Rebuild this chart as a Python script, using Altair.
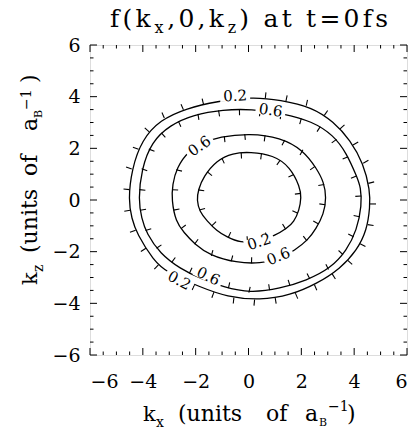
import altair as alt
import numpy as np
import pandas as pd

# ---------------- data ----------------
# contour curves (kx, kz), one list per contour level
c1_x = [-4.55, -4.42, -4.23, -3.6, -3.1, -1.83, -0.82, 0.44, 1.58, 2.59, 3.47, 4.1, 4.48, 4.6,
        4.6, 4.35, 3.85, 3.22, 2.4, 1.2, 0.15, -1.2, -2.34, -3.35, -4.04, -4.42]
c1_z = [0.0, -0.72, -1.3, -2.33, -2.8, -3.37, -3.75, -3.88, -3.69, -3.24, -2.66, -1.95, -1.17, -0.27,
        0.38, 1.41, 2.32, 3.03, 3.6, 3.87, 3.99, 3.82, 3.55, 3.1, 2.32, 1.2]

c2_x = [-4.17, -4.05, -3.86, -3.35, -2.59, -1.8, -0.95, 0.06, 1.2, 2.2, 3.09, 3.72, 4.1, 4.29,
        4.25, 4.1, 3.72, 3.22, 2.4, 1.32, 0.1, -0.95, -2.09, -2.97, -3.67, -4.05]
c2_z = [0.0, -0.7, -1.3, -2.07, -2.66, -3.05, -3.37, -3.6, -3.43, -3.11, -2.66, -1.95, -1.17, -0.2,
        0.5, 0.9, 1.8, 2.51, 3.05, 3.35, 3.52, 3.5, 3.3, 2.9, 2.25, 1.2]

c3_x = [-2.91, -2.75, -2.45, -2.05, -1.45, -0.45, 0.44, 1.2, 1.75, 2.25, 2.55, 2.85, 2.95,
        2.85, 2.59, 2.08, 1.2, 0.06, -1.1, -1.75, -2.28, -2.72, -2.88]
c3_z = [0.0, -0.85, -1.25, -1.7, -2.15, -2.43, -2.46, -2.28, -1.95, -1.55, -1.12, -0.55, 0.1,
        0.7, 1.2, 1.93, 2.42, 2.58, 2.45, 2.2, 1.9, 1.25, 0.6]

c4_x = [-1.96, -1.85, -1.58, -1.2, -0.82, -0.32, 0.38, 1.0, 1.45, 1.72, 1.92, 2.0,
        1.95, 1.58, 0.94, 0.06, -0.6, -1.2, -1.71, -1.9]
c4_z = [0.0, -0.45, -0.8, -1.2, -1.43, -1.66, -1.6, -1.38, -1.1, -0.85, -0.4, 0.1,
        0.5, 1.28, 1.74, 1.86, 1.82, 1.54, 0.9, 0.4]

contours_x = [c1_x, c2_x, c3_x, c4_x]
contours_z = [c1_z, c2_z, c3_z, c4_z]
tick_side = [1, -1, -1, -1]          # +1 ticks outward, -1 ticks inward

# contour labels
lab_text = ["0.2", "0.6", "0.6", "0.2", "0.6", "0.6", "0.2"]
lab_x = [-0.51, 0.84, -1.86, 0.40, 1.13, -1.52, -2.62]
lab_z = [4.03, 3.48, 2.09, -1.62, -2.18, -2.95, -3.11]
lab_angle = [-3, 8, -35, -18, -22, 26, 28]

major_ticks = [-6, -4, -2, 0, 2, 4, 6]
minor_ticks = [v / 2 for v in range(-12, 13) if v % 4 != 0]

# title text: (glyph, is_subscript)
title_seq = [("f", 0), ("(", 0), ("k", 0), ("x", 1), (",", 0), ("0", 0), (",", 0), ("k", 0),
             ("z", 1), (")", 0), (" ", 0), ("a", 0), ("t", 0), (" ", 0), ("t", 0), ("=", 0),
             ("0", 0), ("f", 0), ("s", 0)]

# ---------------- layout ----------------
W, H = 317, 310
SX, SY = W / 12.0, H / 12.0
FONT = "DejaVu Serif"

rows = []
for ci, (xs, zs) in enumerate(zip(contours_x, contours_z)):
    for i, (x, z) in enumerate(zip(xs, zs)):
        rows.append({"c": ci, "i": i, "x": x, "z": z})
lines = pd.DataFrame(rows)


def downhill(xs, zs, sign, step=21.0, length=6.0):
    px = np.array(xs) * SX
    py = np.array(zs) * SY
    cx, cy = px.mean(), py.mean()
    px = np.append(px, px[0])
    py = np.append(py, py[0])
    seg = np.hypot(np.diff(px), np.diff(py))
    cum = np.concatenate([[0.0], np.cumsum(seg)])
    total = cum[-1]
    n = int(round(total / step))
    out = []
    for s in (np.arange(n) + 0.5) * total / n:
        k = min(np.searchsorted(cum, s) - 1, len(seg) - 1)
        t = (s - cum[k]) / seg[k]
        x0 = px[k] + t * (px[k + 1] - px[k])
        y0 = py[k] + t * (py[k + 1] - py[k])
        tx = (px[k + 1] - px[k]) / seg[k]
        ty = (py[k + 1] - py[k]) / seg[k]
        nx, ny = ty, -tx
        if (x0 - cx) * nx + (y0 - cy) * ny < 0:
            nx, ny = -nx, -ny
        nx, ny = nx * sign, ny * sign
        out.append({"x": x0 / SX, "z": y0 / SY,
                    "x2": (x0 + nx * length) / SX, "z2": (y0 + ny * length) / SY})
    return out


tick_rows = []
for xs, zs, sgn in zip(contours_x, contours_z, tick_side):
    tick_rows += downhill(xs, zs, sgn)
ticks = pd.DataFrame(tick_rows)

labels = pd.DataFrame({"t": lab_text, "x": lab_x, "z": lab_z, "a": lab_angle})

xsc = alt.Scale(domain=[-6, 6], nice=False, zero=False)
ysc = alt.Scale(domain=[-6, 6], nice=False, zero=False)

axis_common = dict(title=None, ticks=False, domain=False, grid=False, labelFont=FONT,
                   labelFontSize=19, labelColor="black", values=major_ticks)

contour = alt.Chart(lines).mark_line(color="black", strokeWidth=1.3,
                                     interpolate="basis-closed").encode(
    x=alt.X("x:Q", scale=xsc, axis=alt.Axis(labelPadding=17, **axis_common)),
    y=alt.Y("z:Q", scale=ysc, axis=alt.Axis(labelPadding=10, **axis_common)),
    detail="c:N",
    order="i:Q",
)

dticks = alt.Chart(ticks).mark_rule(color="black", strokeWidth=1.1).encode(
    x=alt.X("x:Q", scale=xsc), y=alt.Y("z:Q", scale=ysc),
    x2="x2:Q", y2="z2:Q")

boxes = alt.Chart(labels).mark_point(
    shape="M-1,-0.36L1,-0.36L1,0.36L-1,0.36Z", filled=True, fill="white",
    opacity=1, strokeWidth=0, size=900).encode(
    x=alt.X("x:Q", scale=xsc), y=alt.Y("z:Q", scale=ysc),
    angle=alt.Angle("a:Q", scale=None))

ltext = alt.Chart(labels).mark_text(font=FONT, fontSize=15, color="black",
                                    baseline="middle", align="center").encode(
    x=alt.X("x:Q", scale=xsc), y=alt.Y("z:Q", scale=ysc),
    text="t:N", angle=alt.Angle("a:Q", scale=None))

# axis ticks pointing into the plot on all four sides
mt = pd.DataFrame({"v": major_ticks})
nt = pd.DataFrame({"v": minor_ticks})


def side_ticks(df, ln):
    b = alt.Chart(df).mark_rule(color="black", strokeWidth=1)
    return [
        b.encode(x=alt.X("v:Q", scale=xsc), y=alt.value(H), y2=alt.value(H - ln)),
        b.encode(x=alt.X("v:Q", scale=xsc), y=alt.value(0), y2=alt.value(ln)),
        b.encode(y=alt.Y("v:Q", scale=ysc), x=alt.value(0), x2=alt.value(ln)),
        b.encode(y=alt.Y("v:Q", scale=ysc), x=alt.value(W), x2=alt.value(W - ln)),
    ]


axis_ticks = side_ticks(mt, 7) + side_ticks(nt, 3.5)

# text pieces (titles with sub/superscripts); positions in page pixels
OX, OY = 90, 45
one = pd.DataFrame({"k": [0]})


def piece(text, x, y, size, angle=0, align="left"):
    kw = dict(font=FONT, fontSize=size, color="black", align=align,
              baseline="alphabetic", text=text)
    if angle:
        kw["angle"] = angle
    return alt.Chart(one).mark_text(**kw).encode(
        x=alt.value(x - OX), y=alt.value(y - OY))


# title laid out glyph by glyph with the wide letter spacing of the original
ADV = {"f": .370, "(": .390, ")": .390, "k": .633, "x": .591, "z": .525, ",": .318,
       "0": .636, "a": .596, "t": .402, "=": .838, "s": .513, " ": .318}
T_MAIN, T_SUB = 25, 16
T_LEFT, T_RIGHT, T_BASE = 110, 388, 27
widths = [ADV[g] * (T_SUB if sub else T_MAIN) for g, sub in title_seq]
gap = (T_RIGHT - T_LEFT - sum(widths)) / (len(title_seq) - 1)
texts = []
cur = T_LEFT
for (g, sub), w in zip(title_seq, widths):
    if g != " ":
        texts.append(piece(g, cur, T_BASE + (6 if sub else 0), T_SUB if sub else T_MAIN))
    cur += w + gap

texts += [
    # x axis title
    piece("k", 143, 421, 21),
    piece("x", 156, 427, 14),
    piece("(units", 178, 421, 22),
    piece("of", 266, 421, 22),
    piece("a", 305, 421, 22),
    piece("B", 319, 426, 11),
    piece("\u22121", 328, 411, 14),
    piece(")", 347, 421, 22),
    # y axis title
    piece("k", 37, 285, 21, angle=270),
    piece("z", 43, 272, 14, angle=270),
    piece("(units", 37, 253, 22, angle=270),
    piece("of", 37, 176, 22, angle=270),
    piece("a", 37, 131, 22, angle=270),
    piece("B", 42, 118, 11, angle=270),
    piece("\u22121", 31, 110, 14, angle=270),
    piece(")", 37, 83, 22, angle=270),
]

chart = alt.layer(contour, dticks, *axis_ticks, boxes, ltext, *texts).properties(
    width=W, height=H,
    autosize=alt.AutoSizeParams(type="none"),
    padding={"left": OX, "top": OY, "right": 416 - OX - W, "bottom": 430 - OY - H},
).configure_view(stroke="black", strokeWidth=1.5).configure(background="white")

chart.save("out.html", embed_options={"renderer": "svg", "actions": False})
